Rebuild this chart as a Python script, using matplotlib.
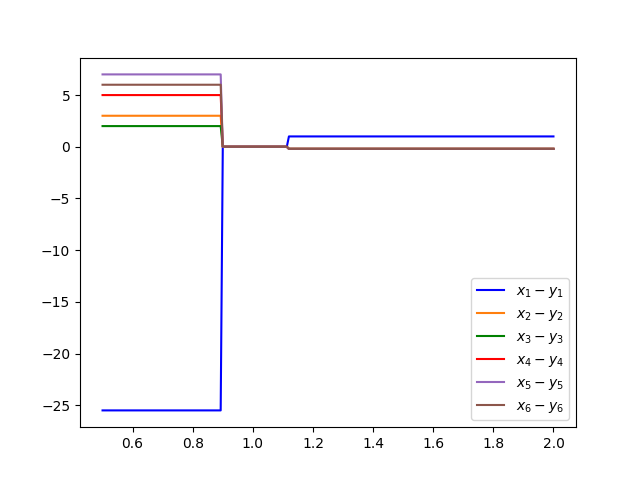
import matplotlib
matplotlib.use("Agg")
import matplotlib.pyplot as plt

# breakpoints
x = [0.5, 0.893, 0.900, 1.113, 1.120, 2.0]

y1 = [-25.5, -25.5, 0.0, 0.0, 1.0, 1.0]
y2 = [3.0, 3.0, 0.0, 0.0, -0.2, -0.2]
y3 = [2.0, 2.0, 0.0, 0.0, -0.2, -0.2]
y4 = [5.0, 5.0, 0.0, 0.0, -0.2, -0.2]
y5 = [7.0, 7.0, 0.0, 0.0, -0.2, -0.2]
y6 = [6.0, 6.0, 0.0, 0.0, -0.2, -0.2]

series = [y1, y2, y3, y4, y5, y6]
colors = ['b', 'tab:orange', 'g', 'r', 'tab:purple', 'tab:brown']

fig, ax = plt.subplots(figsize=(6.4, 4.8), dpi=100)
for i, (y, c) in enumerate(zip(series, colors), start=1):
    ax.plot(x, y, color=c, label=r'$x_{%d} - y_{%d}$' % (i, i))

ax.legend(loc='lower right')
fig.savefig('out.png')
